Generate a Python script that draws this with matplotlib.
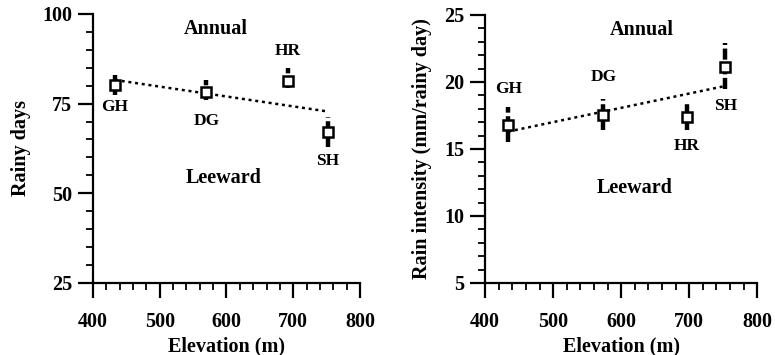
import matplotlib
matplotlib.use("Agg")
import matplotlib.pyplot as plt
from matplotlib.ticker import MultipleLocator

plt.rcParams['font.family'] = ['Liberation Serif', 'DejaVu Serif']
plt.rcParams['font.weight'] = 'bold'

stations = ["GH", "DG", "HR", "SH"]
elevation = [433, 570, 692, 752]

rainy_days = [80.2, 78.2, 81.2, 67.2]
rainy_lo = [77.5, 76.0, 79.4, 63.0]
rainy_hi = [83.0, 81.6, 85.0, 71.3]
rainy_trend_x = [433, 752]
rainy_trend_y = [81.6, 72.8]

intensity = [16.8, 17.5, 17.4, 21.1]
int_lo = [15.5, 16.4, 16.4, 19.5]
int_hi = [18.1, 18.7, 18.4, 22.9]
int_x = [434, 574, 697, 753]
int_trend_x = [434, 753]
int_trend_y = [16.3, 19.7]

fig = plt.figure(figsize=(7.75, 3.55), dpi=100)
ax1 = fig.add_axes([0.120, 0.203, 0.3445, 0.7576])
ax2 = fig.add_axes([0.626, 0.203, 0.351, 0.7548])

def style(ax, ylim, ymaj, ymin):
    ax.set_xlim(400, 800)
    ax.set_ylim(*ylim)
    for s in ["top", "right"]:
        ax.spines[s].set_visible(False)
    for s in ["left", "bottom"]:
        ax.spines[s].set_linewidth(1.6)
    ax.xaxis.set_major_locator(MultipleLocator(100))
    ax.xaxis.set_minor_locator(MultipleLocator(20))
    ax.yaxis.set_major_locator(MultipleLocator(ymaj))
    ax.yaxis.set_minor_locator(MultipleLocator(ymin))
    ax.tick_params(which="major", length=11, width=1.6, direction="out",
                   labelsize=14.5)
    ax.tick_params(axis="y", which="major", pad=4)
    ax.tick_params(axis="x", which="major", pad=10)
    ax.tick_params(which="minor", length=5, width=1.3, direction="out")
    for lab in ax.get_xticklabels() + ax.get_yticklabels():
        lab.set_fontweight("bold")
    ax.set_xlabel("Elevation (m)", fontsize=14.5, fontweight="bold", labelpad=3)

def draw(ax, xs, ys, lo, hi, tx, ty, offsets):
    ax.plot(tx, ty, linestyle=(0, (1.2, 1.5)), color="black", lw=1.8, zorder=2)
    for x, y, l, h in zip(xs, ys, lo, hi):
        ax.plot([x, x], [l, h], color="black", lw=3.2,
                linestyle=(0, (2.5, 0.8)), solid_capstyle="butt", zorder=3)
    ax.plot(xs, ys, "s", ms=6.5, mfc="white", mec="black", mew=1.8, zorder=4)
    for name, x, y, off in zip(stations, xs, ys, offsets):
        ax.annotate(name, (x, y), xytext=(0, off), textcoords="offset points",
                    ha="center", va="center", fontsize=12.5, fontweight="bold")

style(ax1, (25, 100), 25, 5)
style(ax2, (5, 25), 5, 1)
ax1.set_ylabel("Rainy days", fontsize=14.5, fontweight="bold", labelpad=8)
ax2.set_ylabel("Rain intensity (mm/rainy day)", fontsize=14.5, fontweight="bold", labelpad=9)

draw(ax1, elevation, rainy_days, rainy_lo, rainy_hi, rainy_trend_x, rainy_trend_y,
     [-16, -21, 22, -21])
draw(ax2, int_x, intensity, int_lo, int_hi, int_trend_x, int_trend_y,
     [26, 28, -21, -28])

ax1.text(0.46, 0.945, "Annual", transform=ax1.transAxes, ha="center", va="center",
         fontsize=14.5, fontweight="bold")
ax1.text(0.49, 0.39, "Leeward", transform=ax1.transAxes, ha="center", va="center",
         fontsize=14.5, fontweight="bold")
ax2.text(0.575, 0.945, "Annual", transform=ax2.transAxes, ha="center", va="center",
         fontsize=14.5, fontweight="bold")
ax2.text(0.55, 0.355, "Leeward", transform=ax2.transAxes, ha="center", va="center",
         fontsize=14.5, fontweight="bold")

fig.savefig("out.png", dpi=100)
